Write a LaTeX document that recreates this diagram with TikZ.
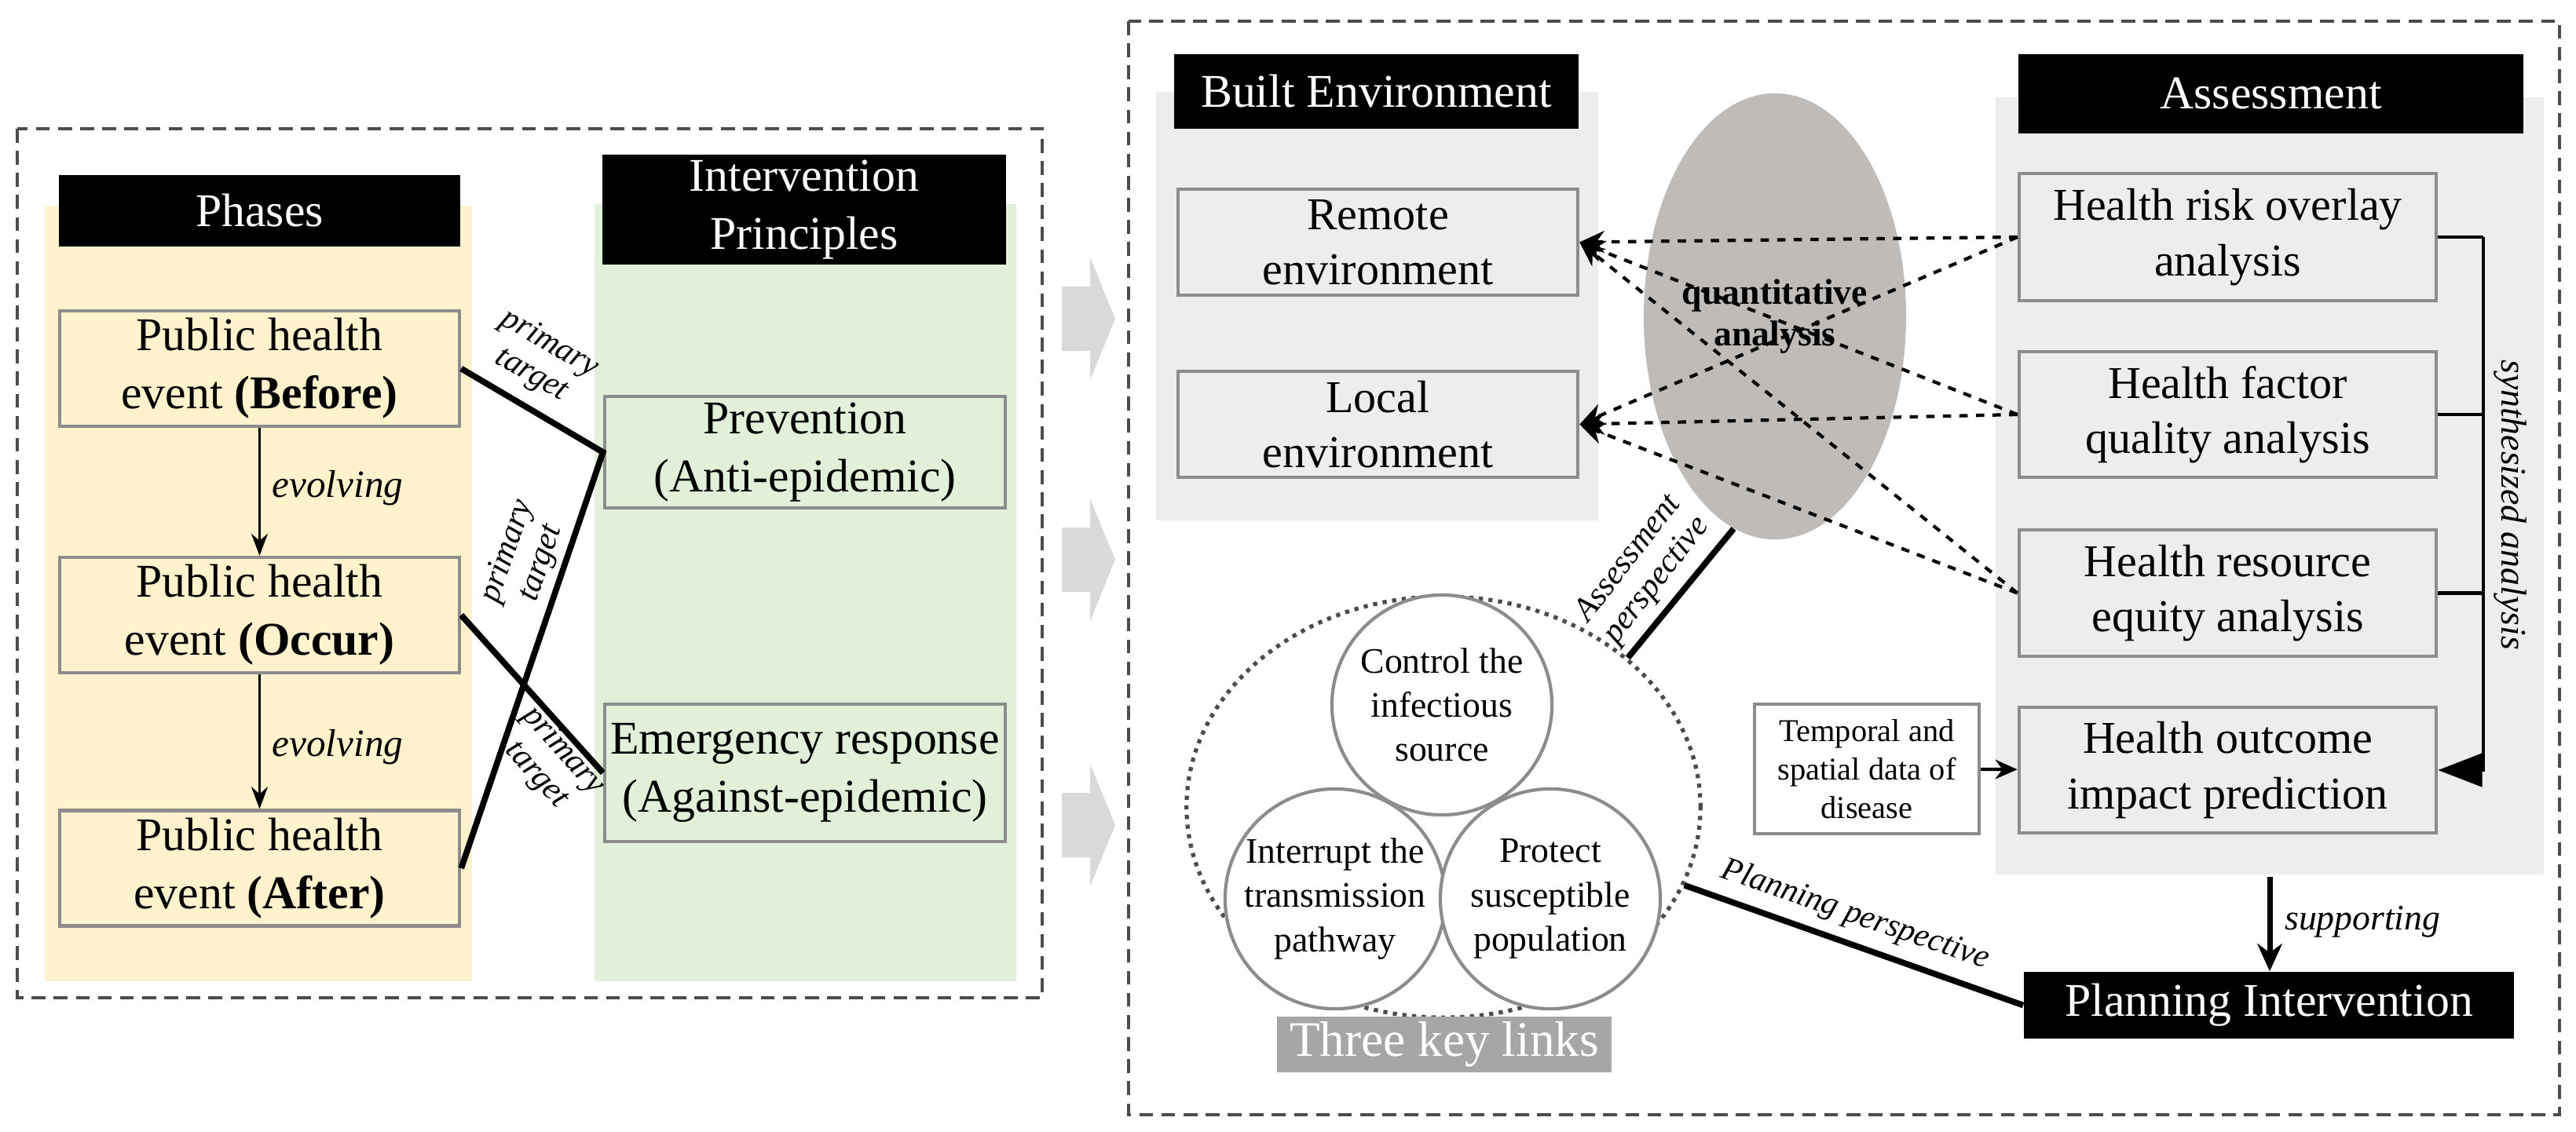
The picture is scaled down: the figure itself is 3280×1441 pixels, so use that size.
\documentclass[tikz,border=0pt]{standalone}
\usepackage{fontspec}
\setmainfont{Liberation Serif}
\usetikzlibrary{shapes.geometric,arrows.meta}
\definecolor{ybg}{HTML}{FFF2CC}
\definecolor{gbg}{HTML}{E2F0D9}
\definecolor{lbg}{HTML}{EDEDED}
\definecolor{bord}{HTML}{8C8C8C}
\definecolor{ell}{HTML}{BFBBB8}
\definecolor{kl}{HTML}{A6A6A6}
\definecolor{chev}{HTML}{D9D9D9}
\tikzset{
 hdr/.style={fill=black,text=white,inner sep=0pt,align=center,font=\fontsize{17}{21}\selectfont},
 box/.style={draw=bord,line width=1.2pt,inner sep=0pt,align=center,font=\fontsize{17}{21}\selectfont},
 rbox/.style={box,fill=lbg,font=\fontsize{16.5}{20}\selectfont},
 circ/.style={circle,draw=bord,line width=1.2pt,fill=white,inner sep=0pt,minimum size=2.8cm,align=center,font=\fontsize{13}{16}\selectfont},
 lab/.style={font=\fontsize{12}{13}\selectfont\itshape,align=center,inner sep=1pt},
 outer/.style={draw=black!70,dash pattern=on 5pt off 3pt,line width=1pt},
 thick line/.style={line width=2.2pt},
 dline/.style={dashed,line width=1.2pt,-{Stealth[length=9pt,width=8pt]}}
}
\begin{document}
\begin{tikzpicture}[x=0.01cm,y=-0.01cm]
\useasboundingbox (0,0) rectangle (3280,1441);
% ---------- left part
\draw[outer] (22,164) rectangle (1327,1271);
\fill[ybg] (57,262) rectangle (601,1250);
\fill[gbg] (757,260) rectangle (1294,1250);
\node[hdr,minimum width=5.11cm,minimum height=0.91cm] (phH) at (330.5,268.5) {Phases};
\node[hdr,minimum width=5.14cm,minimum height=1.40cm] (inH) at (1024,267) {Intervention\\Principles};
\node[box,minimum width=5.09cm,minimum height=1.47cm] (bef) at (330.5,469.5) {Public health\\event \textbf{(Before)}};
\node[box,minimum width=5.09cm,minimum height=1.47cm] (occ) at (330.5,783.5) {Public health\\event \textbf{(Occur)}};
\node[box,minimum width=5.09cm,minimum height=1.47cm] (aft) at (330.5,1106) {Public health\\event \textbf{(After)}};
\node[box,minimum width=5.10cm,minimum height=1.42cm] (prev) at (1025,576) {Prevention\\(Anti-epidemic)};
\node[box,minimum width=5.10cm,minimum height=1.75cm] (emer) at (1025,984.5) {Emergency response\\(Against-epidemic)};
\draw[line width=1pt,-{Stealth[length=8pt,width=6pt]}] (bef) -- (occ);
\draw[line width=1pt,-{Stealth[length=8pt,width=6pt]}] (occ) -- (aft);
\node[lab,font=\fontsize{14}{16}\selectfont\itshape] at (430,622) {evolving};
\node[lab,font=\fontsize{14}{16}\selectfont\itshape] at (430,952) {evolving};
\draw[thick line] (bef.east) -- (prev.west) -- (aft.east);
\draw[thick line] (occ.east) -- (emer.west);
\node[lab,rotate=-30] at (688,458) {primary\\target};
\node[lab,rotate=71] at (668,710) {primary\\target};
\node[lab,rotate=-48] at (700,972) {primary\\target};
% chevrons
\foreach \c in {406,713,1051}
 \fill[chev] (1352,\c-41) -- (1388,\c-41) -- (1388,\c-78) -- (1420,\c) -- (1388,\c+78) -- (1388,\c+41) -- (1352,\c+41) -- cycle;
% ---------- right part
\draw[outer] (1437,27) rectangle (3259,1420);
\fill[lbg] (1472,117) rectangle (2035,663);
\fill[lbg] (2541,124) rectangle (3239,1114);
\node[hdr,minimum width=5.15cm,minimum height=0.95cm] (beH) at (1752.5,116.5) {Built Environment};
\node[hdr,minimum width=6.43cm,minimum height=1.01cm] (asH) at (2891.5,119.5) {Assessment};
\node[rbox,minimum width=5.09cm,minimum height=1.35cm] (rem) at (1754.5,308.5) {Remote\\environment};
\node[rbox,minimum width=5.09cm,minimum height=1.35cm] (loc) at (1754.5,540.5) {Local\\environment};
\node[ellipse,fill=ell,minimum width=2.42cm,minimum height=5.68cm,inner sep=0pt,align=center,font=\fontsize{13}{15}\selectfont\bfseries] (qa) at (2260,403) {quantitative\\analysis};
\node[rbox,minimum width=5.31cm,minimum height=1.62cm] (risk) at (2836.5,302) {Health risk overlay\\analysis};
\node[rbox,minimum width=5.31cm,minimum height=1.60cm] (fac) at (2836.5,528) {Health factor\\quality analysis};
\node[rbox,minimum width=5.31cm,minimum height=1.61cm] (res) at (2836.5,755.5) {Health resource\\equity analysis};
\node[rbox,minimum width=5.31cm,minimum height=1.60cm] (out) at (2836.5,981) {Health outcome\\impact prediction};
\node[box,fill=white,minimum width=2.86cm,minimum height=1.65cm,font=\fontsize{11.5}{14}\selectfont] (tmp) at (2377,979.5) {Temporal and\\spatial data of\\disease};
\node[hdr,minimum width=6.24cm,minimum height=0.85cm] (plan) at (2889,1280.5) {Planning Intervention};
% dashed links
\foreach \s in {risk,fac,res}{
 \draw[dline] (\s.west) -- (rem.east);
 \draw[dline] (\s.west) -- (loc.east);
}
% synthesized
\coordinate (sx) at (3162,302);
\coordinate (sy) at (3162,981);
\draw[line width=1.2pt] (risk.east) -- (sx);
\draw[line width=1.2pt] (fac.east) -- (fac.east -| sx);
\draw[line width=1.2pt] (res.east) -- (res.east -| sx);
\draw[line width=1.2pt,-{Triangle[length=16pt,width=12pt]}] (sx) -- (sy) -- (out.east);
\node[lab,rotate=-90,font=\fontsize{13}{15}\selectfont\itshape] at (3196,643) {synthesized analysis};
\draw[line width=1.2pt,-{Stealth[length=8pt,width=7pt]}] (tmp) -- (out);
\coordinate (sup) at (2890,1117);
\draw[line width=2pt,-{Stealth[length=10pt,width=9pt]}] (sup) -- (plan.north -| sup);
\node[lab,font=\fontsize{13}{15}\selectfont\itshape,anchor=west] at (2905,1174) {supporting};
% three key links
\node[ellipse,draw=black!70,dotted,line width=1.5pt,minimum width=6.54cm,minimum height=5.36cm,inner sep=0pt] (big) at (1838,1028) {};
\node[circ] (c1) at (1836,898) {Control the\\infectious\\source};
\node[circ] (c2) at (1700,1145) {Interrupt the\\transmission\\pathway};
\node[circ] (c3) at (1974,1145) {Protect\\susceptible\\population};
\node[fill=kl,text=white,minimum width=4.26cm,minimum height=0.71cm,inner sep=0pt,font=\fontsize{18}{20}\selectfont] (tkl) at (1839,1330) {Three key links};
\draw[thick line] (big.39) -- (qa.259);
\draw[thick line] (big.-18) -- (plan.west);
\node[lab,rotate=52] at (2092,726) {Assessment\\perspective};
\node[lab,rotate=-19] at (2362,1166) {Planning perspective};
\end{tikzpicture}
\end{document}
